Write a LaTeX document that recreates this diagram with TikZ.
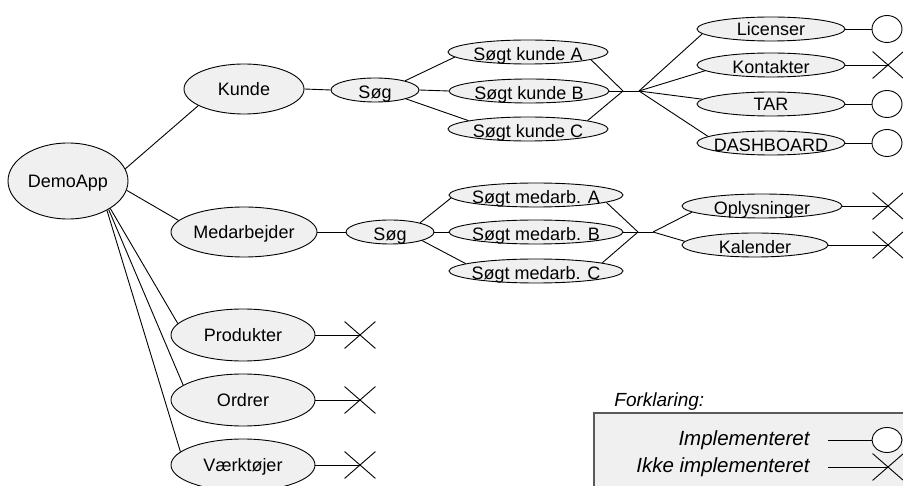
\documentclass[tikz,border=0pt]{standalone}
\usepackage{fontspec}
\setmainfont{Liberation Sans}
\usetikzlibrary{shapes.geometric,shapes.misc}
\definecolor{bubfill}{RGB}{240,240,240}
\definecolor{keyfill}{RGB}{240,240,240}
\definecolor{keyline}{RGB}{90,90,90}
\begin{document}
\begin{tikzpicture}[x=1pt, y=-1pt, line width=0.9pt,
  bub/.style={ellipse, draw=black, fill=bubfill, inner sep=0pt},
  oval/.style 2 args={bub, minimum width=#1, minimum height=#2},
  txt/.style={font=\fontsize{18}{20}\selectfont, inner sep=0pt, text height=16.5pt, text depth=3.6pt},
  low/.style={txt, yshift=-2pt},
  ring/.style={ellipse, draw=black, fill=white, inner sep=0pt, minimum width=30pt, minimum height=27pt},
  cross/.style={cross out, draw=black, inner sep=0pt, minimum width=30pt, minimum height=26pt},
  keytxt/.style={font=\fontsize{20.5}{22}\selectfont\itshape, inner sep=0pt},
]
\useasboundingbox (0,0) rectangle (903,486);

% main tree
\node[oval={120pt}{76pt}, label={[txt]center:DemoApp}] (demo) at (68,181) {};
\node[oval={120pt}{50pt}, label={[txt]center:Kunde}] (kunde) at (244,89) {};
\node[oval={146pt}{50pt}, label={[txt]center:Medarbejder}] (medarb) at (244,232) {};
\node[oval={144pt}{52pt}, label={[txt]center:Produkter}] (prod) at (243,335) {};
\node[oval={144pt}{52pt}, label={[txt]center:Ordrer}] (ordr) at (243,400) {};
\node[oval={144pt}{52pt}, label={[txt]center:Værktøjer}] (vaerk) at (243,465) {};

% customer branch
\node[oval={88pt}{24pt}, label={[low]center:Søg}] (soegk) at (375,90) {};
\node[oval={160pt}{24pt}, label={[low]center:Søgt kunde A}] (kA) at (528,52) {};
\node[oval={160pt}{24pt}, label={[low]center:Søgt kunde B}] (kB) at (529,91) {};
\node[oval={160pt}{24pt}, label={[low]center:Søgt kunde C}] (kC) at (528,129) {};
\coordinate (j1) at (623,91);
\coordinate (j2) at (639,91);
\node[oval={148pt}{24pt}, label={[txt]center:Licenser}] (lic) at (771,29) {};
\node[oval={148pt}{24pt}, label={[low]center:Kontakter}] (kon) at (771,65) {};
\node[oval={148pt}{24pt}, label={[txt]center:TAR}] (tar) at (771,104) {};
\node[oval={148pt}{24pt}, label={[low]center:DASHBOARD}] (dash) at (771,143) {};

% employee branch
\node[oval={88pt}{24pt}, label={[low]center:Søg}] (soegm) at (390,232) {};
\node[oval={174pt}{24pt}, label={[low]center:Søgt medarb. A}] (mA) at (536,195) {};
\node[oval={174pt}{24pt}, label={[low]center:Søgt medarb. B}] (mB) at (536,232) {};
\node[oval={174pt}{24pt}, label={[low]center:Søgt medarb. C}] (mC) at (536,271) {};
\coordinate (j3) at (638,232);
\coordinate (j4) at (653,232);
\node[oval={160pt}{24pt}, label={[low]center:Oplysninger}] (opl) at (762,206) {};
\node[oval={146pt}{24pt}, label={[low]center:Kalender}] (kal) at (755,245) {};

% status marks
\node[ring] (c-lic) at (887,29) {};
\node[cross] (x-kon) at (888,65) {};
\node[ring] (c-tar) at (887,104) {};
\node[ring] (c-dash) at (887,143) {};
\node[cross] (x-opl) at (888,206) {};
\node[cross] (x-kal) at (888,245) {};
\node[cross] (x-prod) at (360,335) {};
\node[cross] (x-ordr) at (360,400) {};
\node[cross] (x-vaerk) at (360,465) {};

% connectors
\draw (demo.12) -- (kunde.200);
\draw (demo.-9) -- (medarb.170);
\draw (demo.-33) -- (prod.170);
\draw (demo.-35) -- (ordr.166);
\draw (demo.-37) -- (vaerk.168);

\draw (kunde.east) -- (soegk.west);
\draw (soegk.17) -- (kA.184);
\draw (soegk.east) -- (kB.west);
\draw (soegk.-16) -- (kC.172);
\draw (kA.-7) -- (j1);
\draw (kB.east) -- (j1);
\draw (kC.8) -- (j1);
\draw (j1) -- (j2);
\draw (j2) -- (lic.184);
\draw (j2) -- (kon.185);
\draw (j2) -- (tar.176);
\draw (j2) -- (dash.174);
\draw (lic.east) -- (c-lic.west);
\draw (kon.east) -- (x-kon.center);
\draw (tar.east) -- (c-tar.west);
\draw (dash.east) -- (c-dash.west);

\draw (medarb.east) -- (soegm.west);
\draw (soegm.17) -- (mA.182);
\draw (soegm.east) -- (mB.west);
\draw (soegm.-15) -- (mC.174);
\draw (mA.-6) -- (j3);
\draw (mB.east) -- (j3);
\draw (mC.7) -- (j3);
\draw (j3) -- (j4);
\draw (j4) -- (opl.185);
\draw (j4) -- (kal.177);
\draw (opl.east) -- (x-opl.center);
\draw (kal.east) -- (x-kal.center);

\draw (prod.east) -- (x-prod.center);
\draw (ordr.east) -- (x-ordr.center);
\draw (vaerk.east) -- (x-vaerk.center);

% legend
\draw[draw=keyline, fill=keyfill, line width=1.2pt] (594,413) rectangle (930,500);
\node[anchor=base west, inner sep=0pt, font=\fontsize{19}{21}\selectfont\itshape] (fk) at (614,407) {Forklaring:};
\node[anchor=base east, keytxt] (impl) at (810,446) {Implementeret};
\node[anchor=base east, keytxt] (ikke) at (810,472) {Ikke implementeret};
\node[ring, minimum height=25pt] (c-key) at (887,440) {};
\node[cross] (x-key) at (888,467) {};
\coordinate (k1) at (828,440);
\coordinate (k2) at (828,467);
\draw (k1) -- (c-key.west);
\draw (k2) -- (x-key.center);
\end{tikzpicture}
\end{document}
